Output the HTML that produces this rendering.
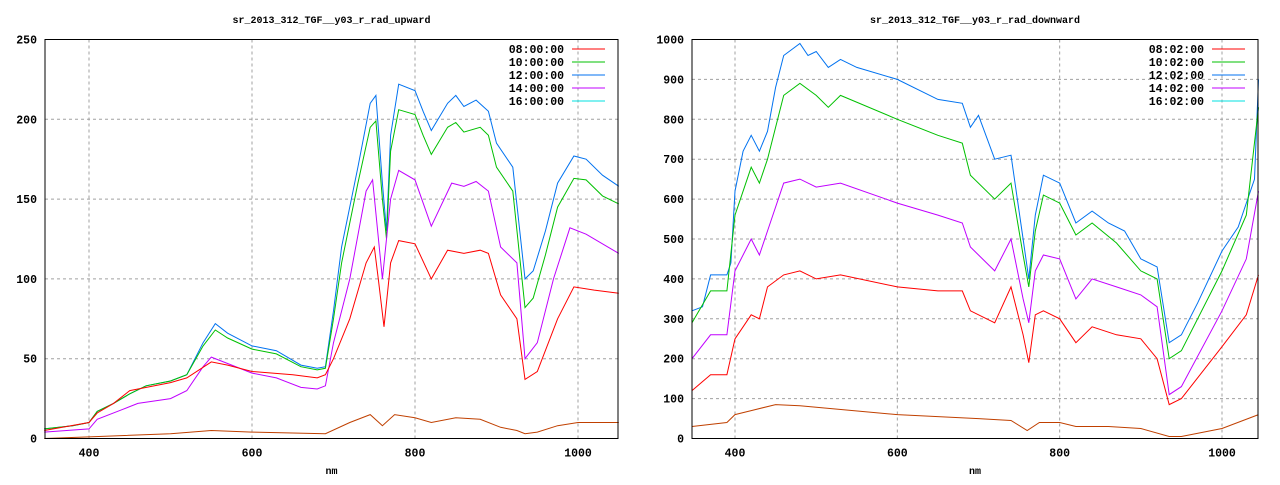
<!DOCTYPE html>
<html><head><meta charset="utf-8"><style>
html,body{margin:0;padding:0;background:#fff}
svg text{font-family:"Liberation Mono","DejaVu Sans Mono",monospace;font-weight:bold;font-size:11.5px;fill:#000}
svg text.t{font-size:10px}
</style></head><body>
<svg id="s" width="1280" height="480" xmlns="http://www.w3.org/2000/svg"></svg>
<script>
const S=document.getElementById('s');let h='';
function plot(o){
 const X=nm=>o.x0+(nm-o.n0)*(o.x1-o.x0)/(o.n1-o.n0);
 const Y=v=>o.yb+(o.yt-o.yb)*v/o.vmax;
 h+=`<text class="t" x="${(o.fl+o.fr)/2}" y="23" text-anchor="middle">${o.title}</text>`;
 for(const t of [400,600,800,1000]){const x=X(t);
  h+=`<line x1="${x}" y1="${o.yt}" x2="${x}" y2="${o.yb}" stroke="#a0a0a0" stroke-dasharray="3,3"/>`;
  h+=`<text x="${x}" y="${o.yb+18}" text-anchor="middle">${t}</text>`;}
 for(let v=0;v<=o.vmax;v+=o.step){const y=Y(v);
  if(v>0&&v<o.vmax)h+=`<line x1="${o.fl}" y1="${y}" x2="${o.fr}" y2="${y}" stroke="#a0a0a0" stroke-dasharray="3,3"/>`;
  h+=`<text x="${o.fl-8}" y="${y+4}" text-anchor="end">${v}</text>`;}
 h+=`<text class="t" x="${(o.fl+o.fr)/2}" y="474" text-anchor="middle">nm</text>`;
 const cols=['#0072f0','#00c000','#c000ff','#ff0000','#c04000'];
 o.series.forEach((d,i)=>{let p=[];for(let k=0;k<d.length;k+=2)p.push(X(d[k]).toFixed(1)+','+Y(d[k+1]).toFixed(1));
  h+=`<polyline fill="none" stroke="${cols[i]}" stroke-width="1" points="${p.join(' ')}"/>`;});
 const lc=['#ff0000','#00c000','#0072f0','#c000ff','#00e0e0'];
 o.leg.forEach((t,i)=>{const y=49+i*13;
  h+=`<text x="${o.lt}" y="${y+4}" text-anchor="end">${t}</text>`;
  h+=`<line x1="${o.lt+8}" y1="${y}" x2="${o.lt+41}" y2="${y}" stroke="${lc[i]}"/>`;});
 h+=`<rect x="${o.fl}" y="${o.yt}" width="${o.fr-o.fl}" height="${o.yb-o.yt}" fill="none" stroke="#000"/>`;
}
plot({title:'sr_2013_312_TGF__y03_r_rad_upward',fl:45,fr:618,x0:89,x1:578,n0:400,n1:1000,yt:39.5,yb:438.5,vmax:250,step:50,lt:564,
leg:['08:00:00','10:00:00','12:00:00','14:00:00','16:00:00'],
series:[
[345,6,380,8,400,10,410,17,430,22,450,28,470,33,500,36,520,40,540,60,555,72,570,66,600,58,630,55,660,46,680,44,690,45,700,80,710,120,730,170,745,210,752,215,760,160,765,130,770,190,780,222,800,218,810,205,820,193,840,210,850,215,860,208,875,212,890,205,900,185,920,170,935,100,945,105,960,130,975,160,995,177,1010,175,1030,165,1050,158],
[345,6,380,8,400,10,410,17,430,22,450,28,470,33,500,36,520,40,540,58,555,68,570,63,600,56,630,53,660,45,680,43,690,44,700,75,710,110,730,160,745,195,752,199,760,150,765,125,770,180,780,206,800,203,810,190,820,178,840,195,850,198,860,192,880,195,890,190,900,170,920,155,935,82,945,88,960,115,975,145,995,163,1010,162,1030,152,1050,147],
[345,4,400,6,410,12,440,18,460,22,500,25,520,30,540,45,550,51,570,47,600,41,630,38,660,32,680,31,690,33,700,60,720,100,740,155,748,162,760,100,770,150,780,168,800,162,820,133,845,160,860,158,875,161,890,155,905,120,925,110,935,50,950,60,970,100,990,132,1010,128,1050,116],
[345,5,400,10,410,16,430,22,450,30,500,35,520,38,550,48,570,46,600,42,650,40,680,38,690,40,700,50,720,75,740,110,750,120,755,100,762,70,770,110,780,124,800,122,820,100,840,118,860,116,880,118,890,116,905,90,925,75,935,37,950,42,975,75,995,95,1020,93,1050,91],
[345,0,400,1,500,3,550,5,600,4,690,3,720,10,745,15,760,8,775,15,800,13,820,10,850,13,880,12,905,7,925,5,935,3,950,4,975,8,1000,10,1050,10]]});
plot({title:'sr_2013_312_TGF__y03_r_rad_downward',fl:692,fr:1258,x0:735,x1:1222,n0:400,n1:1000,yt:39.5,yb:438.5,vmax:1000,step:100,lt:1204,
leg:['08:02:00','10:02:00','12:02:00','14:02:00','16:02:00'],
series:[
[347,320,360,330,370,410,390,410,395,440,400,620,410,720,420,760,430,720,440,770,450,880,460,960,470,975,480,990,490,960,500,970,515,930,530,950,550,930,600,900,650,850,680,840,690,780,700,810,720,700,740,710,755,500,762,400,770,560,780,660,800,640,820,540,840,570,860,540,880,520,900,450,920,430,935,240,950,260,970,340,1000,470,1020,530,1040,650,1045,900],
[347,290,370,370,390,370,400,560,420,680,430,640,440,700,460,860,480,890,500,860,515,830,530,860,600,800,650,760,680,740,690,660,720,600,740,640,755,460,762,380,770,520,780,610,800,590,820,510,840,540,870,490,900,420,920,400,935,200,950,220,1000,420,1030,560,1045,830],
[347,200,370,260,390,260,400,420,420,500,430,460,440,520,460,640,480,650,500,630,530,640,600,590,650,560,680,540,690,480,720,420,740,500,755,350,762,290,770,420,780,460,800,450,820,350,840,400,870,380,900,360,920,330,935,110,950,130,1000,320,1030,450,1045,620],
[347,120,370,160,390,160,400,250,420,310,430,300,440,380,460,410,480,420,500,400,530,410,600,380,650,370,680,370,690,320,720,290,740,380,755,260,762,190,770,310,780,320,800,300,820,240,840,280,870,260,900,250,920,200,935,85,950,100,1000,230,1030,310,1045,410],
[347,30,390,40,400,60,420,70,450,85,480,82,600,60,700,50,740,45,760,20,775,40,800,40,820,30,860,30,900,25,935,5,950,5,1000,25,1045,60]]});
S.innerHTML=h;
</script>
</body></html>
